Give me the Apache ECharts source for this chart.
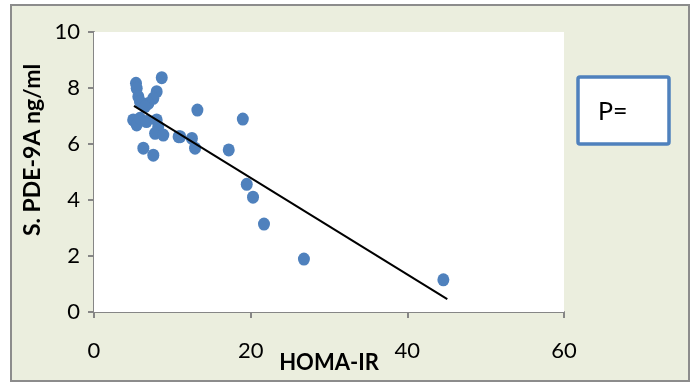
<!DOCTYPE html>
<html>
<head>
<meta charset="utf-8">
<script src="https://cdn.jsdelivr.net/npm/echarts@6/dist/echarts.min.js"></script>
<style>
  html, body { margin: 0; padding: 0; background: #fff; }
  #chart { width: 696px; height: 384px; }
</style>
</head>
<body>
<div id="chart"></div>
<script>
// HOMA-IR (x) vs S. PDE-9A ng/ml (y)
var homaIr = [8.65, 5.36, 5.45, 5.66, 5.87, 8.0, 7.57, 6.94, 6.5, 5.0, 5.45, 5.87, 6.7, 8.0, 8.2, 7.8, 8.85, 6.3, 7.57, 10.8,
  13.2, 19.0, 11.0, 12.5, 12.9, 17.2, 19.5, 20.3, 21.7, 26.8, 44.6];
var pde9a = [8.37, 8.17, 7.99, 7.69, 7.51, 7.87, 7.63, 7.45, 7.33, 6.86, 6.68, 6.92, 6.8, 6.86, 6.62, 6.38, 6.32, 5.85, 5.6, 6.26,
  7.21, 6.89, 6.26, 6.2, 5.85, 5.79, 4.56, 4.1, 3.14, 1.89, 1.15];
// trend line end points
var trendX = [5.1, 45.1];
var trendY = [7.36, 0.46];
var xTicks = [0, 20, 40, 60];
var yTicks = [0, 2, 4, 6, 8, 10];

var chart = echarts.init(document.getElementById("chart"));
var font = "Lato, 'Open Sans', sans-serif";

chart.setOption({
  animation: false,
  backgroundColor: "#fff",
  grid: {
    left: 94,
    right: 132,
    top: 32,
    bottom: 72,
    outerBoundsMode: "none",
    containLabel: false,
    show: true,
    backgroundColor: "#fff",
    borderWidth: 0,
    z: 1
  },
  graphic: [
    {
      type: "rect",
      z: -10,
      shape: { x: 11, y: 5, width: 678, height: 376 },
      style: { fill: "#ebeede", stroke: "#8c8c8c", lineWidth: 2 }
    },
    {
      type: "text",
      z: 10,
      x: 33,
      y: 150,
      rotation: Math.PI / 2,
      style: {
        text: "S. PDE-9A ng/ml",
        fontFamily: font,
        fontWeight: "bold",
        fontSize: 23,
        fill: "#000",
        align: "center",
        verticalAlign: "middle"
      }
    },
    {
      type: "rect",
      z: 10,
      shape: { x: 578, y: 77, width: 91, height: 67, r: 2 },
      style: { fill: "#fff", stroke: "#4f81bd", lineWidth: 3.5 }
    },
    {
      type: "text",
      z: 11,
      x: 598,
      y: 112,
      style: {
        text: "P=",
        fontFamily: font,
        fontSize: 25,
        fill: "#000",
        align: "left",
        verticalAlign: "middle"
      }
    }
  ],
  xAxis: {
    type: "value",
    min: xTicks[0],
    max: xTicks[xTicks.length - 1],
    interval: 20,
    name: "HOMA-IR",
    nameLocation: "middle",
    nameGap: 40,
    nameMoveOverlap: false,
    nameTextStyle: { fontFamily: font, fontWeight: "bold", fontSize: 22, color: "#000" },
    splitLine: { show: false },
    axisLine: { lineStyle: { color: "#868686", width: 2 } },
    axisTick: { show: true, length: 6, lineStyle: { color: "#868686", width: 2 } },
    axisLabel: { fontFamily: font, fontSize: 22, color: "#000", margin: 28 }
  },
  yAxis: {
    type: "value",
    min: yTicks[0],
    max: yTicks[yTicks.length - 1],
    interval: 2,
    splitLine: { show: false },
    axisLine: { show: true, lineStyle: { color: "#868686", width: 2 } },
    axisTick: { show: true, length: 6, lineStyle: { color: "#868686", width: 2 } },
    axisLabel: { fontFamily: font, fontSize: 22, color: "#000", margin: 14 }
  },
  series: [
    {
      type: "scatter",
      symbol: "circle",
      symbolSize: [12, 13],
      itemStyle: { color: "#4f81bd", opacity: 1 },
      data: homaIr.map(function (x, i) { return [x, pde9a[i]]; }),
      z: 3
    },
    {
      type: "line",
      symbol: "none",
      lineStyle: { color: "#000", width: 2 },
      data: trendX.map(function (x, i) { return [x, trendY[i]]; }),
      z: 4
    }
  ]
});
</script>
</body>
</html>
